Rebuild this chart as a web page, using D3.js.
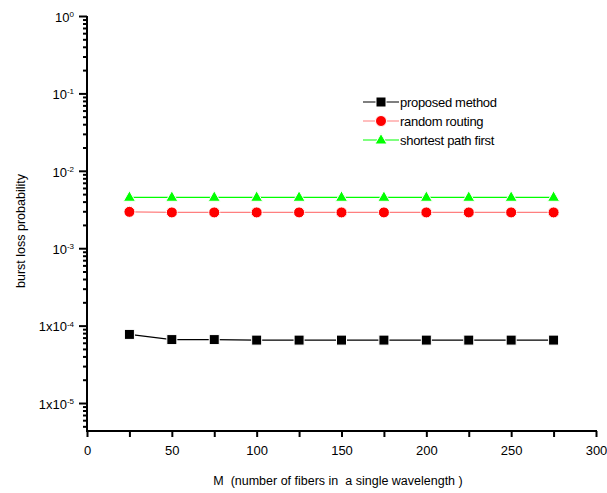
<!DOCTYPE html>
<html>
<head>
<meta charset="utf-8">
<script src="https://cdnjs.cloudflare.com/ajax/libs/d3/7.8.5/d3.min.js"></script>
<style>
  body { margin: 0; background: #fff; }
  svg { font-family: "Liberation Sans", Arial, sans-serif; }
</style>
</head>
<body>
<div id="chart"></div>
<script>
// data
const fibers = [25, 50, 75, 100, 125, 150, 175, 200, 225, 250, 275];
const proposedMethod = [7.7e-5, 6.6e-5, 6.6e-5, 6.5e-5, 6.5e-5, 6.5e-5, 6.5e-5, 6.5e-5, 6.5e-5, 6.5e-5, 6.5e-5];
const randomRouting = [2.95e-3, 2.9e-3, 2.9e-3, 2.9e-3, 2.9e-3, 2.9e-3, 2.9e-3, 2.9e-3, 2.9e-3, 2.9e-3, 2.9e-3];
const shortestPath = [4.55e-3, 4.55e-3, 4.55e-3, 4.55e-3, 4.55e-3, 4.55e-3, 4.55e-3, 4.55e-3, 4.55e-3, 4.55e-3, 4.55e-3];
const xTicks = [0, 25, 50, 75, 100, 125, 150, 175, 200, 225, 250, 275, 300];
const yDecades = [1, 1e-1, 1e-2, 1e-3, 1e-4, 1e-5];
const yTickLabels = [["10", "0"], ["10", "-1"], ["10", "-2"], ["10", "-3"], ["1x10", "-4"], ["1x10", "-5"]];

const series = [
  { name: "proposed method", values: proposedMethod, line: "#000", fill: "#000", shape: "square" },
  { name: "random routing", values: randomRouting, line: "#ff7f7f", fill: "#ff0000", shape: "circle" },
  { name: "shortest path first", values: shortestPath, line: "#00ff00", fill: "#00ff00", shape: "triangle" }
];

const width = 607, height = 493;
const plotLeft = 87, plotRight = 596, plotTop = 16, plotBottom = 431;

const svg = d3.select("#chart").append("svg")
  .attr("width", width)
  .attr("height", height);

const x = d3.scaleLinear().domain([0, 300]).range([plotLeft, plotRight]);
const y = d3.scaleLog().domain([4.35e-6, 1]).range([plotBottom, plotTop]);

// x axis
const xAxis = svg.append("g")
  .attr("transform", `translate(0,${plotBottom})`)
  .call(d3.axisBottom(x).tickValues(xTicks).tickSize(6).tickPadding(9)
    .tickFormat(d => d % 50 === 0 ? d : ""));
xAxis.select(".domain").attr("stroke-width", 2).attr("d", `M${plotLeft - 1},0H${plotRight + 1}`);
xAxis.selectAll(".tick line").attr("stroke-width", 2);
xAxis.selectAll(".tick text").attr("font-size", 13).attr("fill", "#000");

// y axis (log, with minor ticks)
const minor = [];
for (let e = -6; e < 0; e++) {
  for (let m = 2; m <= 9; m++) {
    const v = m * Math.pow(10, e);
    if (v >= y.domain()[0]) minor.push(v);
  }
}
const yAxis = svg.append("g")
  .attr("transform", `translate(${plotLeft},0)`);
yAxis.append("g")
  .call(d3.axisLeft(y).tickValues(minor).tickSize(4).tickFormat(""))
  .call(g => g.select(".domain").remove())
  .selectAll(".tick line").attr("stroke-width", 2);
const major = yAxis.append("g")
  .call(d3.axisLeft(y).tickValues(yDecades).tickSize(8).tickFormat(""));
major.select(".domain").attr("stroke-width", 2).attr("d", `M0,${plotBottom + 1}V${plotTop}`);
major.selectAll(".tick line").attr("stroke-width", 2);
major.selectAll(".tick").each(function(d, i) {
  const t = d3.select(this).append("text")
    .attr("x", -13)
    .attr("dy", "0.4em")
    .attr("text-anchor", "end")
    .attr("fill", "#000")
    .attr("font-size", 13);
  t.append("tspan").text(yTickLabels[i][0]);
  t.append("tspan").attr("dy", "-0.6em").attr("font-size", 8).text(yTickLabels[i][1]);
});

// axis titles
svg.append("text")
  .attr("transform", "translate(25,231) rotate(-90)")
  .attr("text-anchor", "middle")
  .attr("font-size", 12.5)
  .text("burst loss probability");

svg.append("text")
  .attr("x", 338)
  .attr("y", 485)
  .attr("text-anchor", "middle")
  .attr("font-size", 12.5)
  .attr("xml:space", "preserve")
  .text("M  (number of fibers in  a single wavelength )");

// markers
function drawMarker(g, s, cx, cy) {
  if (s.shape === "square") {
    g.append("rect").attr("x", cx - 5).attr("y", cy - 5).attr("width", 10).attr("height", 10)
      .attr("fill", s.fill).attr("stroke", "#fff").attr("stroke-width", 1);
  } else if (s.shape === "circle") {
    g.append("ellipse").attr("cx", cx).attr("cy", cy).attr("rx", 5.5).attr("ry", 5.5)
      .attr("fill", s.fill).attr("stroke", "#fff").attr("stroke-width", 1);
  } else {
    g.append("path").attr("d", `M${cx},${cy - 6.5}L${cx + 6},${cy + 4}L${cx - 6},${cy + 4}Z`)
      .attr("fill", s.fill).attr("stroke", "#fff").attr("stroke-width", 1);
  }
}

const line = d3.line().x((d, i) => x(fibers[i])).y(d => y(d));

series.forEach(s => {
  const g = svg.append("g");
  g.append("path")
    .attr("d", line(s.values))
    .attr("fill", "none")
    .attr("stroke", s.line)
    .attr("stroke-width", 1.2);
  s.values.forEach((v, i) => drawMarker(g, s, x(fibers[i]), y(v)));
});

// legend
const legend = svg.append("g").attr("transform", "translate(363,102)");
series.forEach((s, i) => {
  const row = legend.append("g").attr("transform", `translate(0,${i * 19})`);
  row.append("line").attr("x1", 0).attr("x2", 36).attr("y1", 0).attr("y2", 0)
    .attr("stroke", s.line).attr("stroke-width", 1.2);
  drawMarker(row, s, 18, 0);
  row.append("text").attr("x", 37).attr("dy", "0.35em").attr("font-size", 13)
    .attr("letter-spacing", -0.3)
    .text(s.name);
});
</script>
</body>
</html>
